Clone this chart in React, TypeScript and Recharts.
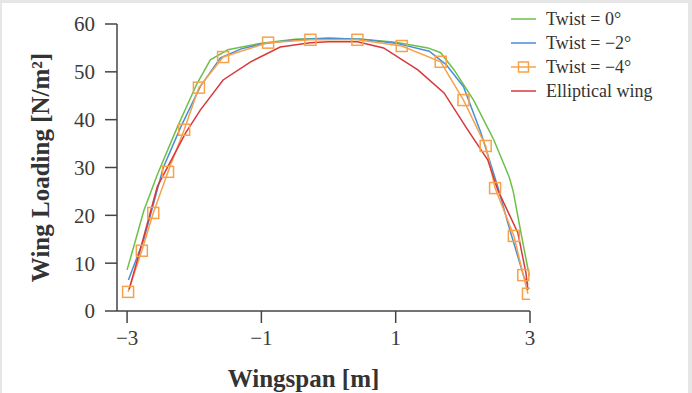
import React from "react";
import { LineChart, Line, XAxis, YAxis, Legend, Label } from "recharts";

// spanwise stations [m] and loading [N/m²] for each wing
const twist0Span = [-3.0, -2.9, -2.75, -2.55, -2.25, -1.96, -1.76, -1.5, -1.0, -0.5, 0, 0.5, 1.0, 1.48, 1.67, 1.87, 2.16, 2.46, 2.69, 2.75, 2.87, 2.99];
const twist0Load = [8.6, 13.5, 21, 28.5, 38.5, 47.5, 52.5, 54.6, 56.0, 56.8, 57.0, 56.8, 56.2, 55.0, 54.0, 50.4, 44.1, 35.8, 28.0, 25.0, 16.0, 7.3];

const twist2Span = [-2.98, -2.75, -2.46, -2.2, -1.91, -1.61, -1.3, -1.0, -0.5, 0, 0.5, 1.0, 1.5, 1.75, 2.01, 2.27, 2.52, 2.67, 2.91, 2.97];
const twist2Load = [6.5, 15, 30, 38.5, 46.9, 52.9, 54.8, 55.8, 56.7, 57.0, 56.8, 56.0, 54.3, 51.5, 46.9, 37.2, 26.0, 18.4, 7.1, 5.5];

const twist4Span = [-2.985, -2.78, -2.61, -2.39, -2.15, -1.93, -1.57, -0.9, -0.27, 0.43, 1.09, 1.67, 2.01, 2.34, 2.48, 2.76, 2.9, 2.97];
const twist4Load = [4.0, 12.6, 20.5, 29.1, 37.9, 46.7, 53.1, 56.1, 56.7, 56.7, 55.4, 52.1, 44.1, 34.5, 25.7, 15.7, 7.5, 3.6];

const ellipticSpan = [-2.97, -2.8, -2.55, -2.13, -1.91, -1.57, -1.16, -0.72, -0.27, 0, 0.43, 0.82, 1.33, 1.72, 2.07, 2.37, 2.52, 2.82, 2.94, 2.97];
const ellipticLoad = [4.5, 13, 26, 37.2, 42, 48.3, 52.1, 55.2, 56.1, 56.3, 56.3, 55.0, 50.4, 45.6, 37.9, 31.6, 25.3, 16.3, 7.9, 4.4];

const xTicks = [-3, -1, 1, 3];
const yTicks = [0, 10, 20, 30, 40, 50, 60];

const toPoints = (xs: number[], ys: number[]) => xs.map((x, i) => ({ x, y: ys[i] }));

const FONT = "'Liberation Serif', 'DejaVu Serif', serif";
const AXIS = "#444";

const minus = (v: number) => String(v).replace("-", "\u2212");

const SquareDot = (props: any) => {
  const { cx, cy } = props;
  if (cx == null || cy == null) return null;
  return <rect x={cx - 5.5} y={cy - 5.5} width={11} height={11} fill="none" stroke="#f7a24a" strokeWidth={1.5} />;
};

const series = [
  { name: "Twist = 0\u00b0", color: "#6cc04a", data: toPoints(twist0Span, twist0Load), marker: false },
  { name: "Twist = \u22122\u00b0", color: "#4a8fd4", data: toPoints(twist2Span, twist2Load), marker: false },
  { name: "Twist = \u22124\u00b0", color: "#f7a24a", data: toPoints(twist4Span, twist4Load), marker: true },
  { name: "Elliptical wing", color: "#d8383c", data: toPoints(ellipticSpan, ellipticLoad), marker: false },
];

const LegendBox = () => (
  <div style={{ fontFamily: FONT, fontSize: 18, color: "#333" }}>
    {series.map((s) => (
      <div key={s.name} style={{ display: "flex", alignItems: "center", height: 24 }}>
        <svg width={34} height={14}>
          <line x1={2} x2={27} y1={7} y2={7} stroke={s.color} strokeWidth={1.5} />
          {s.marker && <rect x={9.5} y={2} width={10} height={10} fill="none" stroke={s.color} strokeWidth={1.5} />}
        </svg>
        <span style={{ marginLeft: 3 }}>{s.name}</span>
      </div>
    ))}
  </div>
);

export default function App() {
  return (
    <div style={{ position: "absolute", top: 0, left: 0, width: 692, height: 393, background: "#e6e6e6" }}>
      <div style={{ position: "absolute", top: 3, left: 2, width: 686, height: 390, background: "#fff" }} />
      <div style={{ position: "absolute", top: 0, left: 0 }}>
        <LineChart width={692} height={393} margin={{ top: 24, right: 162, bottom: 0, left: 0 }}>
          <XAxis
            type="number"
            dataKey="x"
            domain={[-3.15, 3]}
            ticks={xTicks}
            allowDataOverflow
            tickFormatter={minus}
            height={82}
            tickSize={12}
            tickMargin={7}
            stroke={AXIS}
            strokeWidth={1.5}
            tick={{ fill: "#3a3a3a", fontSize: 21, fontFamily: FONT }}
          >
            <Label
              value="Wingspan [m]"
              position="center"
              dx={-20}
              dy={26}
              style={{ fontFamily: FONT, fontSize: 25, fontWeight: "bold", fill: "#333" }}
            />
          </XAxis>
          <YAxis
            type="number"
            dataKey="y"
            domain={[0, 60]}
            ticks={yTicks}
            width={117}
            tickSize={12}
            tickMargin={10}
            stroke={AXIS}
            strokeWidth={1.5}
            tick={{ fill: "#3a3a3a", fontSize: 21, fontFamily: FONT }}
          >
            <Label
              value="Wing Loading [N/m²]"
              angle={-90}
              position="center"
              dx={-18}
              style={{ fontFamily: FONT, fontSize: 25, fontWeight: "bold", fill: "#333" }}
            />
          </YAxis>
          <Legend
            layout="vertical"
            verticalAlign="middle"
            align="center"
            content={<LegendBox />}
            wrapperStyle={{ top: 7, left: 509, width: 180 }}
          />
          {series.map((s) => (
            <Line
              key={s.name}
              data={s.data}
              dataKey="y"
              name={s.name}
              type="linear"
              stroke={s.color}
              strokeWidth={1.5}
              dot={s.marker ? <SquareDot /> : false}
              activeDot={false}
              isAnimationActive={false}
            />
          ))}
        </LineChart>
      </div>
    </div>
  );
}
